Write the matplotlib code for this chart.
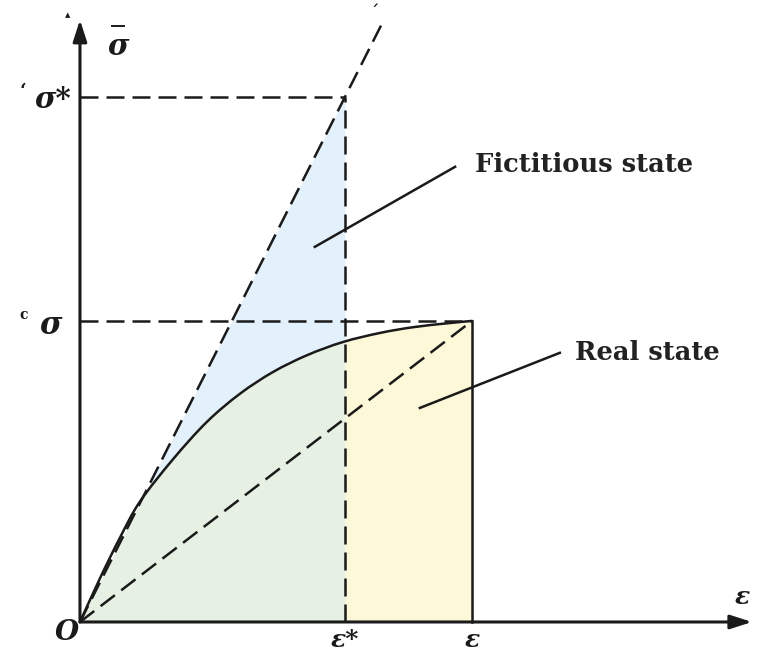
import numpy as np
import matplotlib
matplotlib.use("Agg")
import matplotlib.pyplot as plt
from matplotlib.path import Path
from matplotlib.patches import PathPatch

# Key strain / stress levels (normalised so that the real state is (1, 1))
eps_real = 1.0
sig_real = 1.0
eps_star = 0.676
sig_star = 1.744

# Real stress-strain curve (strain, stress)
curve_eps = [0.0, 0.051, 0.102, 0.153, 0.237, 0.324, 0.408, 0.492, 0.579,
             0.671, 0.765, 0.849, 0.936, 1.0]
curve_sig = [0.0, 0.145, 0.280, 0.400, 0.540, 0.665, 0.758, 0.830, 0.886,
             0.930, 0.960, 0.979, 0.992, 1.0]

# Extent of the elastic (fictitious) line beyond the point (eps*, sig*)
sig_line_top = 1.983

x_tick_labels = ["ε*", "ε"]
state_labels = ["Fictitious state", "Real state"]

BLUE = "#e3f1fc"
GREEN = "#e6f0e3"
YELLOW = "#fdf8d8"
INK = "#1a1a1a"
DASH = (0, (7.2, 3.2))
LW = 1.8


def smooth_path(xs, ys):
    """Cubic Bezier path through the points (Catmull-Rom tangents)."""
    pts = np.column_stack([xs, ys])
    n = len(pts)
    verts = [pts[0]]
    codes = [Path.MOVETO]
    for i in range(n - 1):
        p0 = pts[max(i - 1, 0)]
        p1 = pts[i]
        p2 = pts[i + 1]
        p3 = pts[min(i + 2, n - 1)]
        c1 = p1 + (p2 - p0) / 6.0
        c2 = p2 - (p3 - p1) / 6.0
        verts += [c1, c2, p2]
        codes += [Path.CURVE4] * 3
    return Path(np.array(verts), codes)


fig = plt.figure(figsize=(7.57, 6.56), dpi=100)
ax = fig.add_axes([0, 0, 1, 1])
ax.set_xlim(-0.204, 1.727)
ax.set_ylim(-0.113, 2.066)
ax.axis("off")

ce = np.array(curve_eps)
cs = np.array(curve_sig)
slope = sig_star / eps_star
curve_path = smooth_path(ce, cs)
fine = curve_path.interpolated(20).vertices
fx, fy = fine[:, 0], fine[:, 1]

# Shaded areas
sig_at_star = np.interp(eps_star, fx, fy)
left = fx <= eps_star
xl = np.append(fx[left], eps_star)
yl = np.append(fy[left], sig_at_star)
ax.fill_between(xl, np.minimum(yl, slope * xl), slope * xl, color=BLUE,
                lw=0, zorder=1)
ax.fill_between(xl, 0, np.minimum(yl, slope * xl), color=GREEN, lw=0, zorder=1)
right = fx >= eps_star
xr = np.insert(fx[right], 0, eps_star)
yr = np.insert(fy[right], 0, sig_at_star)
ax.fill_between(xr, 0, yr, color=YELLOW, lw=0, zorder=1)

# Real curve
ax.add_patch(PathPatch(curve_path, fill=False, edgecolor=INK, lw=LW,
                       zorder=3, capstyle="round"))

# Fictitious (elastic) line and secant to the real state
ax.plot([0, sig_line_top / slope], [0, sig_line_top], color=INK, lw=LW,
        ls=DASH, zorder=3)
ax.plot([0, eps_real], [0, sig_real], color=INK, lw=LW, ls=DASH, zorder=3)

# Reference lines
ax.plot([0, eps_star], [sig_star, sig_star], color=INK, lw=LW, ls=DASH, zorder=3)
ax.plot([0, eps_real], [sig_real, sig_real], color=INK, lw=LW, ls=DASH, zorder=3)
ax.plot([eps_star, eps_star], [0, sig_star], color=INK, lw=LW, ls=DASH, zorder=3)
ax.plot([eps_real, eps_real], [0, sig_real], color=INK, lw=LW, zorder=3)

# Axes with arrowheads
arrow = dict(arrowstyle="-|>,head_length=1.3,head_width=0.42", color=INK,
             lw=2.2, shrinkA=0, shrinkB=0)
ax.annotate("", xy=(1.714, 0), xytext=(0, 0), arrowprops=arrow, zorder=4)
ax.annotate("", xy=(0, 2.0), xytext=(0, 0), arrowprops=arrow, zorder=4)

# Labels
serif = "DejaVu Serif"
gk = dict(family=serif, style="italic", weight="bold", color=INK)
ax.text(-0.033, -0.035, "O", fontsize=20, ha="center", va="center", **gk)
ax.text(eps_star, -0.06, x_tick_labels[0], fontsize=18, ha="center",
        va="center", **gk)
ax.text(eps_real, -0.06, x_tick_labels[1], fontsize=18, ha="center",
        va="center", **gk)
ax.text(1.69, 0.083, "ε", fontsize=18, ha="center", va="center", **gk)
ax.text(-0.068, 1.735, "σ*", fontsize=21, ha="center", va="center", **gk)
ax.text(-0.075, 0.985, "σ", fontsize=22, ha="center", va="center", **gk)
ax.text(0.097, 1.912, "σ", fontsize=21, ha="center", va="center", **gk)
ax.plot([0.082, 0.112], [1.98, 1.98], color=INK, lw=1.4)

# Small stray marks near the axis labels
ax.text(-0.145, 1.76, "‘", fontsize=14, ha="center", va="center",
        family=serif, weight="bold", color=INK)
ax.text(-0.145, 1.02, "c", fontsize=10, ha="center", va="center",
        family=serif, weight="bold", color=INK)
ax.text(-0.032, 2.015, "▲", fontsize=5, ha="center", va="center", color=INK)
ax.text(0.75, 2.02, "ˊ", fontsize=14, ha="center", va="center", color=INK)

# State annotations
ax.plot([0.599, 0.957], [1.246, 1.512], color=INK, lw=LW)
ax.text(1.008, 1.518, state_labels[0], fontsize=18.5, ha="left", va="center",
        family=serif, weight="bold", color="#222222")
ax.plot([0.867, 1.224], [0.711, 0.894], color=INK, lw=LW)
ax.text(1.263, 0.894, state_labels[1], fontsize=18.5, ha="left", va="center",
        family=serif, weight="bold", color="#222222")

fig.savefig("out.png", dpi=100)
